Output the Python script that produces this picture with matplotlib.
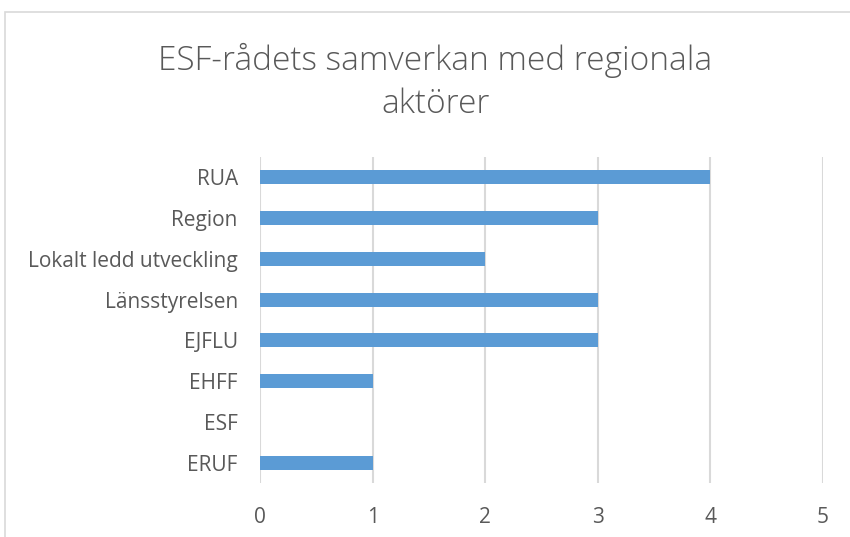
import matplotlib.pyplot as plt
from matplotlib.patches import Rectangle

# categories listed bottom to top, as the chart draws them
categories = ['ERUF', 'ESF', 'EHFF', 'EJFLU', 'Länsstyrelsen',
              'Lokalt ledd utveckling', 'Region', 'RUA']
values = [1, 0, 1, 3, 3, 2, 3, 4]
xticks = [0, 1, 2, 3, 4, 5]

title = 'ESF-rådets samverkan med regionala\naktörer'
bar_color = '#5B9BD5'
text_color = '#595959'
grid_color = '#D9D9D9'

plt.rcParams['font.family'] = ['Open Sans', 'DejaVu Sans']

fig = plt.figure(figsize=(8.5, 5.37), dpi=100)
ax = fig.add_axes([260 / 850, 1 - 483 / 537, (823 - 260) / 850, (483 - 157) / 537])

ax.barh(range(len(categories)), values, height=0.34, color=bar_color, zorder=3)
ax.set_yticks(range(len(categories)))
ax.set_yticklabels(categories)
ax.set_ylim(-0.5, len(categories) - 0.5)
ax.set_xlim(0, 5)
ax.set_xticks(xticks)

ax.grid(axis='x', color=grid_color, linewidth=1.5, zorder=0)
ax.grid(axis='y', visible=False)
for s in ax.spines.values():
    s.set_visible(False)
ax.tick_params(axis='both', length=0, labelcolor=text_color)
ax.tick_params(axis='y', pad=16, labelsize=15)
ax.tick_params(axis='x', pad=17, labelsize=15)

fig.text(0.512, 1 - 82 / 537, title, ha='center', va='center', fontsize=24,
         color=text_color, fontweight='light', linespacing=1.38)

# light chart-area border, running off the right and bottom edge
fig.patches.append(Rectangle((5 / 850, -0.1), 1.2, 1 - 12 / 537 + 0.1,
                             transform=fig.transFigure, fill=False,
                             edgecolor=grid_color, linewidth=1.2))

fig.savefig('out.png', dpi=100)
